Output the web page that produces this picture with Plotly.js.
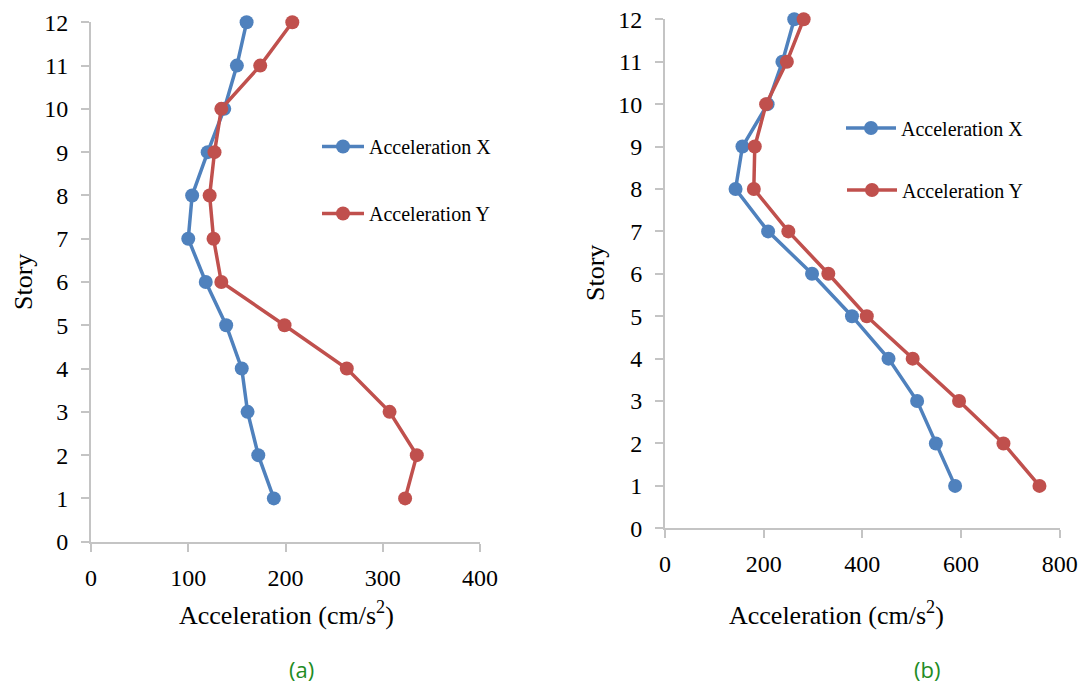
<!DOCTYPE html>
<html>
<head>
<meta charset="utf-8">
<script src="https://cdn.plot.ly/plotly-3.0.1.min.js"></script>
<style>html,body{margin:0;padding:0;background:#fff;}#chart{width:1082px;height:686px;}</style>
</head>
<body>
<div id="chart"></div>
<script>
// ---- data ----
const stories = [1, 2, 3, 4, 5, 6, 7, 8, 9, 10, 11, 12];
const accXa = [188, 172, 161, 155, 139, 118, 100, 104, 120, 137, 150, 160];
const accYa = [323, 335, 307, 263, 199, 134, 126, 122, 127, 134, 174, 207];
const accXb = [588, 549, 511, 453, 379, 298, 209, 143, 157, 208, 238, 262];
const accYb = [759, 686, 596, 502, 409, 331, 250, 180, 182, 205, 247, 281];
const seriesNames = ['Acceleration X', 'Acceleration Y'];
const xTitle = 'Acceleration (cm/s<sup>2</sup>)';
const yTitle = 'Story';
const captions = ['(a)', '(b)'];

// ---- style ----
const BLUE = '#4F81BD', RED = '#C0504D', AXIS = '#c4c4c4';
const SERIF = "'Liberation Serif', 'Times New Roman', Times, serif";
const SANS = "'Open Sans', 'Noto Sans', sans-serif";
const W = 1082, H = 686;
const px = v => v / W, py = v => 1 - v / H;

function tr(x, name, color, xa, ya, leg) {
  return {
    x: x, y: stories, name: name, type: 'scatter', mode: 'lines+markers',
    xaxis: xa, yaxis: ya, legend: leg, cliponaxis: false,
    line: {color: color, width: 3.5},
    marker: {color: color, size: 14}
  };
}

const data = [
  tr(accXa, seriesNames[0], BLUE, 'x', 'y', 'legend'),
  tr(accYa, seriesNames[1], RED, 'x', 'y', 'legend2'),
  tr(accXb, seriesNames[0], BLUE, 'x2', 'y2', 'legend3'),
  tr(accYb, seriesNames[1], RED, 'x2', 'y2', 'legend4')
];

function mainX(dom, range, dtick, anchor) {
  return {domain: dom, range: range, dtick: dtick, tick0: 0, anchor: anchor,
    showgrid: false, zeroline: false, showline: true, linecolor: AXIS, linewidth: 2,
    ticks: 'outside', ticklen: 8, tickwidth: 2, tickcolor: AXIS,
    ticklabelstandoff: 5,
    tickfont: {family: SERIF, size: 24, color: '#000'}, automargin: false, fixedrange: true};
}
function mainY(dom, anchor) {
  return {domain: dom, range: [0, 12], dtick: 1, tick0: 0, anchor: anchor,
    showgrid: false, zeroline: false, showline: true, linecolor: AXIS, linewidth: 2,
    ticks: 'outside', ticklen: 8, tickwidth: 2, tickcolor: AXIS,
    ticklabelstandoff: 8,
    tickfont: {family: SERIF, size: 24, color: '#000'}, automargin: false, fixedrange: true};
}
function innerX(over, range, dtick, anchor) {
  return {overlaying: over, anchor: anchor, range: range, dtick: dtick, tick0: 0,
    showgrid: false, zeroline: false, showline: false, showticklabels: false,
    ticks: 'inside', ticklen: 8, tickwidth: 2, tickcolor: AXIS, fixedrange: true};
}
function innerY(over, anchor) {
  return {overlaying: over, anchor: anchor, range: [0, 12], dtick: 1, tick0: 0,
    showgrid: false, zeroline: false, showline: false, showticklabels: false,
    ticks: 'inside', ticklen: 8, tickwidth: 2, tickcolor: AXIS, fixedrange: true};
}

function leg(x, y, iw) {
  return {x: x, y: y, xanchor: 'left', yanchor: 'middle', bgcolor: 'rgba(0,0,0,0)',
    borderwidth: 0, itemwidth: iw, font: {family: SERIF, size: 20, color: '#000'}};
}

const ann = (text, x, y, opts) => Object.assign({text: text, x: x, y: y, xref: 'paper', yref: 'paper',
  showarrow: false, xanchor: 'center', yanchor: 'middle'}, opts || {});

const layout = {
  width: W, height: H, margin: {l: 0, r: 0, t: 0, b: 0},
  paper_bgcolor: '#fff', plot_bgcolor: 'rgba(0,0,0,0)',
  font: {family: SERIF},
  showlegend: true,
  xaxis: mainX([px(91), px(480)], [0, 400], 100, 'y'),
  yaxis: mainY([py(541.7), py(22.3)], 'x'),
  xaxis2: mainX([px(665), px(1059.7)], [0, 800], 200, 'y2'),
  yaxis2: mainY([py(528.3), py(19.3)], 'x2'),
  xaxis3: innerX('x', [0, 400], 100, 'y'),
  yaxis3: innerY('y', 'x'),
  xaxis4: innerX('x2', [0, 800], 200, 'y2'),
  yaxis4: innerY('y2', 'x2'),
  legend: leg(px(317), py(146.5), 42),
  legend2: leg(px(317), py(213.5), 42),
  legend3: leg(px(841), py(128), 50),
  legend4: leg(px(842), py(190), 50),
  annotations: [
    ann(xTitle, px(286), py(613), {font: {family: SERIF, size: 26, color: '#000'}}),
    ann(xTitle, px(836), py(613), {font: {family: SERIF, size: 26, color: '#000'}}),
    ann(yTitle, px(23), py(282), {textangle: -90, font: {family: SERIF, size: 26, color: '#000'}}),
    ann(yTitle, px(595), py(273), {textangle: -90, font: {family: SERIF, size: 26, color: '#000'}}),
    ann(captions[0], px(301.7), py(669), {font: {family: SANS, size: 22, color: '#1f8c24'}}),
    ann(captions[1], px(926.7), py(669), {font: {family: SANS, size: 22, color: '#1f8c24'}})
  ]
};

Plotly.newPlot('chart', data, layout, {displayModeBar: false, staticPlot: true});
</script>
</body>
</html>
